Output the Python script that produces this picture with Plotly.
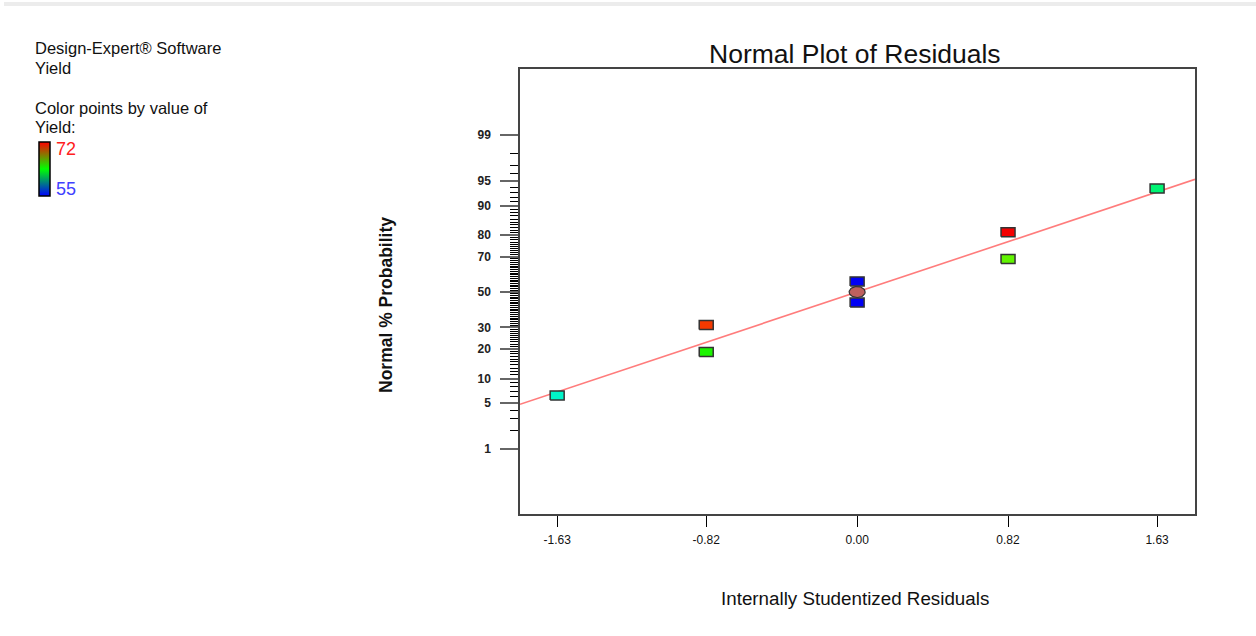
import colorsys
import numpy as np
from statistics import NormalDist
import plotly.graph_objects as go

# ---------------- data ----------------
residuals = [-1.63, -0.82, -0.82, 0.00, 0.00, 0.82, 0.82, 1.63]
normal_pct = [6.25, 18.75, 31.25, 43.75, 56.25, 68.75, 81.25, 93.75]
yield_vals = [60.0, 64.0, 71.0, 55.0, 55.0, 65.2, 72.0, 61.5]
center_x = [0.00]
center_pct = [50.0]
line_x = [-1.832, 1.836]
line_pct = [4.80, 95.24]
x_ticks = [-1.63, -0.82, 0.00, 0.82, 1.63]
x_ticktext = ["-1.63", "-0.82", "0.00", "0.82", "1.63"]
y_major_pct = [1, 5, 10, 20, 30, 50, 70, 80, 90, 95, 99]
y_minor_pct = [p for p in range(2, 99) if p not in y_major_pct]
yield_min, yield_max = 55, 72

# ---------------- helpers ----------------
nd = NormalDist()
def z(p):
    return nd.inv_cdf(p / 100.0)

W, H = 1256, 636
L, R, T, B = 520, 1195, 69, 514
PW, PH = R - L, B - T
def px_x(px):
    return (px - L) / PW
def px_y(py):
    return (B - py) / PH

xr = [-1.832, 1.836]
yr = [-3.289, 3.304]
ux = PW / (xr[1] - xr[0])   # px per x unit
uy = PH / (yr[1] - yr[0])   # px per z unit

def yield_color(v):
    h = 240.0 * (yield_max - v) / (yield_max - yield_min) / 360.0
    r, g, b = colorsys.hsv_to_rgb(h, 1.0, 0.96)
    return f"rgb({int(r*255)},{int(g*255)},{int(b*255)})"

FONT = "Liberation Sans, Arial, sans-serif"
NARROW = "Liberation Sans Narrow, Arial Narrow, Liberation Sans, Arial, sans-serif"

fig = go.Figure()

# fitted line
fig.add_trace(go.Scatter(
    x=line_x, y=[z(p) for p in line_pct], mode="lines",
    line=dict(color="rgba(255,110,110,0.9)", width=1.6),
    hoverinfo="skip", showlegend=False))

# rectangles for points
hw, hh = 7.0 / ux, 4.5 / uy
for xv, pv, yv in zip(residuals, normal_pct, yield_vals):
    zc = z(pv)
    fig.add_trace(go.Scatter(
        x=[xv - hw, xv + hw, xv + hw, xv - hw, xv - hw],
        y=[zc - hh, zc - hh, zc + hh, zc + hh, zc - hh],
        mode="lines", fill="toself", fillcolor=yield_color(yv),
        line=dict(color="#333333", width=1.5),
        hoverinfo="skip", showlegend=False))

# center ellipse
t = np.linspace(0, 2 * np.pi, 60)
ew, eh = 8.0 / ux, 5.5 / uy
for cx, cp in zip(center_x, center_pct):
    fig.add_trace(go.Scatter(
        x=cx + ew * np.cos(t), y=z(cp) + eh * np.sin(t),
        mode="lines", fill="toself", fillcolor="rgb(190,96,94)",
        line=dict(color="#333333", width=1.2),
        hoverinfo="skip", showlegend=False))

# invisible trace carrying the colorbar
fig.add_trace(go.Scatter(
    x=residuals, y=[z(p) for p in normal_pct], mode="markers",
    marker=dict(size=1, opacity=0, color=yield_vals, cmin=yield_min, cmax=yield_max,
                colorscale=[[0, "rgb(0,0,255)"], [0.5, "rgb(0,255,0)"], [1, "rgb(255,0,0)"]],
                showscale=True,
                colorbar=dict(x=px_x(38.5), xanchor="left", y=px_y(142), yanchor="top",
                              thickness=11, len=54, lenmode="pixels",
                              xpad=0, ypad=0, outlinewidth=1.5, outlinecolor="black",
                              showticklabels=False, ticks="")),
    hoverinfo="skip", showlegend=False))

fig.update_xaxes(
    range=xr, tickmode="array", tickvals=x_ticks, ticktext=x_ticktext,
    ticks="outside", ticklen=11, tickwidth=1, tickcolor="black",
    tickfont=dict(family=NARROW, size=12, color="#111"),
    showgrid=False, zeroline=False, showline=True, mirror=True,
    linecolor="#444", linewidth=1.5, ticklabelstandoff=3)

fig.update_yaxes(
    range=yr, tickmode="array", tickvals=[z(p) for p in y_major_pct],
    ticktext=[str(p) for p in y_major_pct],
    ticks="outside", ticklen=18, tickwidth=2, tickcolor="#666",
    tickfont=dict(family=NARROW, size=12, color="#222", weight="bold"),
    minor=dict(tickmode="array", tickvals=[z(p) for p in y_minor_pct],
               ticks="outside", ticklen=8, tickwidth=1, tickcolor="black", showgrid=False),
    showgrid=False, zeroline=False, showline=True, mirror=True,
    linecolor="#444", linewidth=1.5, ticklabelstandoff=7)

ann = []
def text(x, y, s, size, color="#111", xanchor="left", weight="normal", angle=0):
    ann.append(dict(x=px_x(x), y=px_y(y), xref="paper", yref="paper", text=s,
                    showarrow=False, xanchor=xanchor, yanchor="middle",
                    textangle=angle,
                    font=dict(family=FONT, size=size, color=color, weight=weight)))

text(855, 54, "Normal Plot of Residuals", 26.5, xanchor="center")
text(855, 598, "Internally Studentized Residuals", 18.8, xanchor="center")
text(386, 305, "Normal % Probability", 17.5, xanchor="center", weight="bold", angle=-90)
text(33, 48, "Design-Expert® Software", 16.5)
text(33, 68, "Yield", 16.5)
text(33, 108, "Color points by value of", 16.5)
text(33, 127, "Yield:", 16.5)
text(54, 149, "72", 18, color="#ff2020")
text(54, 189, "55", 18, color="#4040ff")

fig.update_layout(
    width=W, height=H,
    margin=dict(l=L, r=W - R, t=T, b=H - B),
    paper_bgcolor="white", plot_bgcolor="white",
    showlegend=False, annotations=ann,
    shapes=[dict(type="rect", xref="paper", yref="paper",
                 x0=px_x(4), x1=px_x(1256), y0=px_y(6), y1=px_y(2),
                 fillcolor="#ececec", line=dict(width=0), layer="below")],
    font=dict(family=FONT))

fig.write_html("out.html")
